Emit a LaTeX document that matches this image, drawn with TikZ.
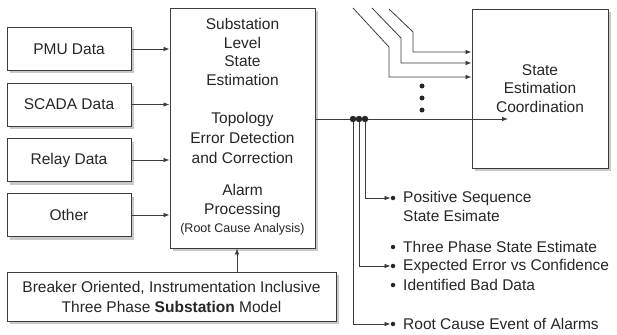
\documentclass[tikz,border=0pt]{standalone}
\usepackage{fontspec}
\setmainfont{Liberation Sans}
\usetikzlibrary{arrows.meta,shadows}

\definecolor{inkc}{HTML}{262626}
\definecolor{linec}{HTML}{3C3C3C}
\definecolor{shadowc}{HTML}{C9C9C9}

\begin{document}
\begin{tikzpicture}[x=1pt,y=-1pt,
  txt/.style={font=\fontsize{15.5}{18.5}\selectfont, text=inkc},
  box/.style={draw=linec, line width=0.9pt, fill=white, inner sep=0pt,
    rectangle, txt,
    drop shadow={shadow xshift=3pt, shadow yshift=-3pt, fill=shadowc, opacity=1}},
  srcbox/.style={box, minimum width=124pt, minimum height=43pt},
  arr/.style={draw=linec, line width=0.8pt, -{Latex[length=6pt,width=4.5pt]}},
  wire/.style={draw=linec, line width=0.8pt},
  tap/.style={circle, fill=inkc, draw=inkc, inner sep=0pt, minimum size=6pt},
  bul/.style={circle, fill=inkc, inner sep=0pt, minimum size=4.5pt},
  item/.style={txt, anchor=west, inner sep=0pt}
]
\useasboundingbox (0,0) rectangle (617,334);

% input data boxes
\node[srcbox] (pmu)   at (69,49)    {PMU Data};
\node[srcbox] (scada) at (69,104.5) {SCADA Data};
\node[srcbox] (relay) at (69,160)   {Relay Data};
\node[srcbox] (other) at (69,215)   {Other};

% substation level processing
\node[box, minimum width=145pt, minimum height=240pt] (sse) at (242.5,128) {};
\node[txt, align=center, inner sep=0pt] (t1) at (242.5,52)
  {Substation\\Level\\State\\Estimation};
\node[txt, align=center, inner sep=0pt, font=\fontsize{15.5}{20}\selectfont] (t2) at (242.5,138)
  {Topology\\Error Detection\\and Correction};
\node[txt, align=center, inner sep=0pt] (t3) at (242.5,210)
  {Alarm\\Processing\\{\fontsize{12.5}{16.5}\selectfont(Root Cause Analysis)}};

% three phase substation model
\node[box, minimum width=329pt, minimum height=49pt, align=center,
      font=\fontsize{15.5}{20}\selectfont] (model) at (171.5,296.5)
  {Breaker Oriented, Instrumentation Inclusive\\Three Phase \textbf{Substation} Model};

% coordination box
\node[box, minimum width=136pt, minimum height=159pt, align=center] (sec) at (540,88.5)
  {State\\Estimation\\Coordination};

% inputs into the substation estimator
\foreach \s in {pmu,scada,relay,other}
  \draw[arr] (\s.east) -- (\s.east -| sse.west);

% model feeds the estimator
\coordinate (upx) at (237,0);
\draw[arr] (model.north -| upx) -- (sse.south -| upx);

% feeds from other substations
\coordinate (inA) at (353,8);
\coordinate (kA) at (389,47);
\coordinate (inB) at (372,8);
\coordinate (kB) at (401,38);
\coordinate (inC) at (389,9);
\coordinate (kC) at (413,32);
\draw[arr] (inA) -- (kA) -- (389,77) -- (sec.west |- 0,77);
\draw[arr] (inB) -- (kB) -- (401,63) -- (sec.west |- 0,63);
\draw[arr] (inC) -- (kC) -- (413,52) -- (sec.west |- 0,52);
\node[bul, minimum size=5pt] (d1) at (422,86) {};
\node[bul, minimum size=5pt] (d2) at (422,98) {};
\node[bul, minimum size=5pt] (d3) at (422,110) {};

% estimator output
\coordinate (outy) at (0,119);
\coordinate (outend) at (508,119);
\draw[arr] (sse.east |- outy) -- (outend);
\node[tap] (c1) at (353,119) {};
\node[tap] (c2) at (359,119) {};
\node[tap] (c3) at (365,119) {};

% output items
\node[bul] (b1) at (393,198) {};
\node[bul] (b2) at (393,247) {};
\node[bul] (b3) at (393,266) {};
\node[bul] (b4) at (393,285) {};
\node[bul] (b5) at (393,324) {};
\node[item] (i1)  at (403,198) {Positive Sequence};
\node[item] (i1b) at (403,216) {State Esimate};
\node[item] (i2)  at (403,247) {Three Phase State Estimate};
\node[item] (i3)  at (403,266) {Expected Error vs Confidence};
\node[item] (i4)  at (403,285) {Identified Bad Data};
\node[item] (i5)  at (403,324) {Root Cause Event of Alarms};

\draw[arr] (c3.south) |- (b1);
\draw[arr] (c2.south) |- (b3);
\draw[arr] (c1.south) |- (b5);
\end{tikzpicture}
\end{document}
